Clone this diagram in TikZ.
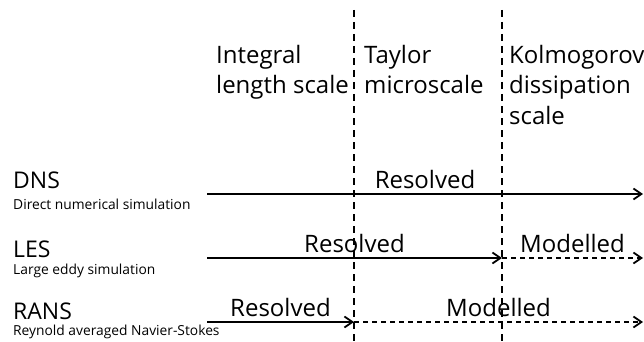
\documentclass[tikz,border=0pt]{standalone}
\usepackage{fontspec}
\setmainfont{Open Sans}
\usetikzlibrary{arrows.meta, positioning}
\tikzset{%
  bigtext/.style = {font=\fontsize{23}{30}\selectfont, inner sep=0pt, anchor=base west},
  smalltext/.style = {font=\fontsize{13.8}{15}\selectfont, inner sep=0pt, anchor=base west},
  scaletext/.style = {bigtext, font=\fontsize{24}{30}\selectfont, align=left},
  divider/.style = {line width=1.8pt, dash pattern=on 7pt off 5pt},
  resolved/.style = {line width=1.8pt, -{Straight Barb[length=8pt, width=11pt, line width=1.8pt]}},
  modelled/.style = {resolved, dash pattern=on 5pt off 4pt},
  regime/.style = {font=\fontsize{24}{30}\selectfont, above=4.5pt, inner sep=0pt}
}

\begin{document}
\begin{tikzpicture}[x=1pt, y=-1pt]
    \useasboundingbox (0,0) rectangle (644,342);

    % length scales (anchored at the baseline of the last line)
    \node (integral)   [scaletext] at (216,94)  {Integral\\length scale};
    \node (taylor)     [scaletext] at (364,94)  {Taylor\\microscale};
    \node (kolmogorov) [scaletext] at (509,124) {Kolmogorov\\dissipation\\scale};

    \coordinate (taylor top)     at (354,10);
    \coordinate (taylor bottom)  at (354,342);
    \coordinate (kolmo top)      at (502,10);
    \coordinate (kolmo bottom)   at (502,342);
    \draw[divider] (taylor top) -- (taylor bottom);
    \draw[divider] (kolmo top) -- (kolmo bottom);

    % methods
    \node (dns)      [bigtext]   at (13,188) {DNS};
    \node (dnsfull)  [smalltext] at (13,209) {Direct numerical simulation};
    \node (les)      [bigtext]   at (13,257) {LES};
    \node (lesfull)  [smalltext] at (13,274) {Large eddy simulation};
    \node (rans)     [bigtext]   at (13,319) {RANS};
    \node (ransfull) [smalltext] at (13,335) {Reynold averaged Navier-Stokes};

    \coordinate (dns start)  at (207,194);
    \coordinate (dns end)    at (643,194);
    \coordinate (les start)  at (207,258);
    \coordinate (les cut)    at (kolmo top |- les start);
    \coordinate (les end)    at (643,258);
    \coordinate (rans start) at (207,322);
    \coordinate (rans cut)   at (taylor top |- rans start);
    \coordinate (rans end)   at (643,322);

    \draw[resolved] (dns start) -- node[regime] {Resolved} (dns end);
    \draw[resolved] (les start) -- node[regime] {Resolved} (les cut);
    \draw[modelled] (les cut)   -- node[regime] {Modelled} (les end);
    \draw[resolved] (rans start) -- node[regime] {Resolved} (rans cut);
    \draw[modelled] (rans cut)   -- node[regime] {Modelled} (rans end);
\end{tikzpicture}
\end{document}
